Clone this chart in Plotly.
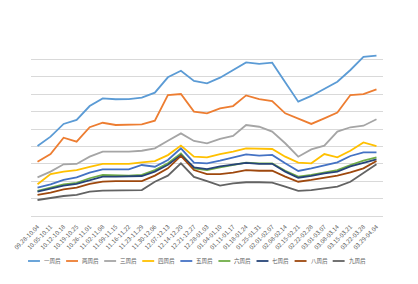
import plotly.graph_objects as go

weeks = ["09.28-10.04", "10.05-10.11", "10.12-10.18", "10.19-10.25", "10.26-11.01",
         "11.02-11.08", "11.09-11.15", "11.16-11.22", "11.23-11.29", "11.30-12.06",
         "12.07-12.13", "12.14-12.20", "12.21-12.27", "12.28-01.03", "01.04-01.10",
         "01.11-01.17", "01.18-01.24", "01.25-01.31", "02.01-02.07", "02.08-02.14",
         "02.15-02.21", "02.22-02.28", "03.01-03.07", "03.08-03.14", "03.15-03.21",
         "03.22-03.28", "03.29-04.04"]

w1 = [4.02, 4.56, 5.29, 5.52, 6.32, 6.76, 6.71, 6.72, 6.80, 7.09, 7.97, 8.35, 7.76, 7.62, 7.95,
      8.39, 8.83, 8.74, 8.81, 7.69, 6.57, 6.90, 7.30, 7.72, 8.39, 9.14, 9.22]
w2 = [3.12, 3.56, 4.50, 4.27, 5.10, 5.36, 5.23, 5.27, 5.27, 5.48, 6.95, 7.01, 6.00, 5.90, 6.19,
      6.32, 6.93, 6.72, 6.61, 5.90, 5.61, 5.29, 5.61, 5.94, 6.95, 7.01, 7.28]
w3 = [2.22, 2.55, 2.97, 2.99, 3.41, 3.70, 3.70, 3.70, 3.75, 3.89, 4.33, 4.75, 4.31, 4.18, 4.43,
      4.60, 5.23, 5.13, 4.85, 4.18, 3.41, 3.83, 4.04, 4.85, 5.10, 5.19, 5.56]
w4 = [1.82, 2.41, 2.55, 2.64, 2.83, 2.99, 2.99, 3.00, 3.08, 3.16, 3.50, 4.05, 3.41, 3.37, 3.56,
      3.70, 3.89, 3.89, 3.85, 3.41, 3.07, 3.03, 3.56, 3.37, 3.75, 4.23, 4.02]
w5 = [1.63, 1.82, 2.07, 2.22, 2.49, 2.68, 2.68, 2.68, 2.93, 2.83, 3.22, 3.89, 3.07, 3.03, 3.18,
      3.37, 3.54, 3.47, 3.51, 3.03, 2.59, 2.74, 2.93, 3.08, 3.45, 3.66, 3.66]
w6 = [1.44, 1.63, 1.82, 1.91, 2.17, 2.36, 2.32, 2.32, 2.36, 2.64, 3.03, 3.60, 2.74, 2.64, 2.80,
      2.93, 3.07, 3.03, 3.03, 2.60, 2.26, 2.36, 2.49, 2.64, 2.93, 3.18, 3.37]
w7 = [1.40, 1.55, 1.74, 1.84, 2.07, 2.26, 2.26, 2.26, 2.30, 2.55, 2.95, 3.50, 2.80, 2.70, 2.85,
      2.95, 3.05, 3.00, 3.00, 2.55, 2.20, 2.30, 2.45, 2.55, 2.85, 3.05, 3.25]
w8 = [1.21, 1.34, 1.53, 1.63, 1.84, 1.97, 2.01, 2.01, 2.01, 2.32, 2.74, 3.45, 2.64, 2.41, 2.41,
      2.49, 2.64, 2.60, 2.60, 2.26, 1.97, 2.07, 2.20, 2.32, 2.51, 2.74, 3.16]
w9 = [0.92, 1.05, 1.15, 1.21, 1.40, 1.46, 1.46, 1.46, 1.49, 1.97, 2.32, 3.03, 2.25, 2.00, 1.75,
      1.88, 1.94, 1.94, 1.92, 1.69, 1.44, 1.49, 1.59, 1.69, 1.97, 2.45, 2.97]

names = ["一周后", "两周后", "三周后", "四周后", "五周后", "六周后", "七周后", "八周后", "九周后"]
series = [w1, w2, w3, w4, w5, w6, w7, w8, w9]
colors = ["#5B9BD5", "#ED7D31", "#A5A5A5", "#FFC000", "#4472C4",
          "#70AD47", "#264478", "#9E480E", "#636363"]

L, R, T, B = 29, 35, 42, 68
W = 418 - L - R
H = 284 - T - B

fig = go.Figure()
for name, vals, col in zip(names, series, colors):
    fig.add_trace(go.Scatter(x=weeks, y=vals, name=name, mode="lines",
                             line=dict(color=col, width=1.8), showlegend=False))

# custom compact legend (Excel-style)
shapes = []
annotations = []
ly = (216 - 261.0) / H
for k, (name, col) in enumerate(zip(names, colors)):
    tx = 40.0 + 38.3 * k
    shapes.append(dict(type="line", xref="paper", yref="paper",
                       x0=(tx - 14 - L) / W, x1=(tx - 2 - L) / W, y0=ly, y1=ly,
                       line=dict(color=col, width=1.8)))
    annotations.append(dict(xref="paper", yref="paper", x=(tx - L) / W, y=ly,
                            text=name, showarrow=False, xanchor="left", yanchor="middle",
                            font=dict(size=5.5, color="#595959")))

fig.update_layout(
    width=418, height=284,
    margin=dict(l=L, r=R, t=T, b=B),
    paper_bgcolor="white", plot_bgcolor="white",
    font=dict(family="Noto Sans CJK SC", size=5, color="#595959"),
    shapes=shapes, annotations=annotations,
    xaxis=dict(type="category", tickangle=-45, tickfont=dict(size=6, color="#595959"),
               showgrid=False, showline=True, linecolor="#D9D9D9", linewidth=1,
               ticks="", ticklabelstandoff=4, range=[-0.5, 26.5]),
    yaxis=dict(range=[0, 10], dtick=1, showticklabels=False, gridcolor="#D9D9D9",
               gridwidth=1, zeroline=False, showline=False, ticks=""),
)

fig.write_html("out.html")
